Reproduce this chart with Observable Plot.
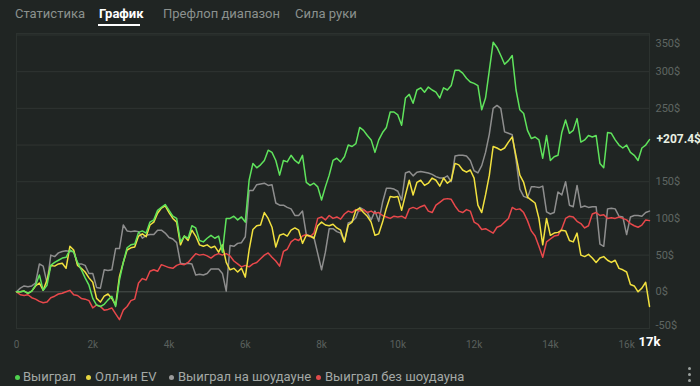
<!DOCTYPE html>
<html><head><meta charset="utf-8">
<script src="https://cdn.jsdelivr.net/npm/d3@7"></script>
<script src="https://cdn.jsdelivr.net/npm/@observablehq/plot@0.6"></script>
<style>
html,body{margin:0;padding:0;background:#202523;width:700px;height:386px;overflow:hidden;font-family:Roboto,"Noto Sans",sans-serif;}
#wrap{position:relative;width:700px;height:386px;}
.tab{position:absolute;top:6px;font-size:13px;line-height:16px;color:#8b918e;white-space:nowrap;}
.tab.active{color:#ffffff;font-weight:bold;}
#uline{position:absolute;left:98px;top:24px;width:42px;height:2px;background:#ffffff;}
#chart{position:absolute;left:0;top:0;}
.lg{position:absolute;top:369px;font-size:13px;line-height:16px;color:#a4a9a6;white-space:nowrap;}
.dot{position:absolute;top:375px;width:5px;height:5px;border-radius:50%;}
#kebab{position:absolute;left:688px;top:367px;width:4px;height:16px;z-index:5;}
#kebab span{display:block;width:3px;height:3px;margin:0 0 3px 0;border-radius:50%;background:#9ba19e;}
</style></head>
<body><div id="wrap">
<div id="chart"></div>
<div id="tabs"></div>
<div id="uline"></div>
<div id="legend"></div>
<div id="kebab"><span></span><span></span><span></span></div>
</div>
<script>
// ---- data ----
const tabs = ["Статистика", "График", "Префлоп диапазон", "Сила руки"];
const seriesNames = ["Выиграл", "Олл-ин EV", "Выиграл на шоудауне", "Выиграл без шоудауна"];
const seriesColors = ["#5fe35c", "#f2e13f", "#8e8e8e", "#e8484b"];
const legendDotColors = ["#4fd24f", "#e6d640", "#9a9a9a", "#e04a4a"];
const xTicks = [0, 2000, 4000, 6000, 8000, 10000, 12000, 14000, 16000];
const yTicks = [0, 50, 100, 150, 250, 300];
const gridTicks = [50, 100, 150, 200, 250, 300, 350];
const totalLabel = "17k";
const hands = d3.range(0, 16700, 100); // 0..16600 hands, step 100

const won = [
0,0,1,-2,1,9,23,2,9,36,
40,43,46,47,57,54,40,30,19,9,
-9,-18,-20,-17,-11,-6,-20,16,40,60,
64,65,81,83,80,95,98,111,115,119,
111,103,100,68,76,73,90,87,70,68,
73,77,73,76,54,100,100,103,98,102,
95,152,175,169,173,179,193,190,179,159,
179,177,186,179,175,186,149,145,148,143,
125,143,159,179,182,177,184,200,198,202,
224,220,213,207,190,207,217,224,245,245,
241,227,264,269,257,275,278,272,279,275,
272,264,278,275,281,302,302,298,291,286,
284,281,248,264,302,340,333,322,310,315,
322,275,248,243,220,209,211,207,182,213,
179,184,186,217,234,216,220,236,204,207,
213,211,213,175,169,217,216,207,200,196,
200,190,186,179,196,200,207.4];

const allinEV = [
0,0,1,-2,1,8,12,2,16,36,
35,38,39,32,62,57,36,32,27,19,
13,-9,-14,-6,-3,-9,-18,21,40,57,
60,61,76,79,75,91,95,107,114,117,
108,100,95,64,76,70,84,76,64,62,
64,60,62,54,64,40,30,32,27,32,
20,57,85,90,91,108,100,88,61,77,
79,76,84,87,84,66,77,76,73,90,
95,91,90,92,87,84,68,91,95,111,
114,108,103,95,77,79,95,114,130,129,
130,111,132,152,132,149,152,145,148,155,
152,144,155,148,152,175,173,166,163,166,
155,118,108,132,159,198,196,193,196,204,
211,185,159,149,129,125,121,100,64,100,
77,80,81,84,83,70,68,80,50,48,
51,46,40,46,48,43,40,43,32,30,
27,10,8,0,5,13,-20];

const showdown = [
0,5,8,7,8,12,38,35,12,50,
48,53,55,56,55,55,38,38,36,25,
25,6,5,30,29,30,59,59,91,83,
82,83,82,73,77,78,78,84,84,80,
74,72,67,39,38,39,38,23,24,23,
25,31,31,31,25,1,63,62,66,67,
75,138,138,146,147,148,145,146,121,118,
118,115,113,104,104,110,78,76,74,52,
30,54,86,86,82,80,68,94,96,101,
115,112,108,98,110,96,122,141,141,140,
137,125,162,164,158,163,164,163,162,160,
157,155,155,158,150,185,186,186,185,179,
165,162,172,190,215,250,254,250,218,216,
214,180,140,130,128,143,143,142,144,109,
106,108,136,132,150,118,116,145,115,117,
115,116,116,65,62,113,114,113,103,102,
78,102,104,104,103,108,110];

const nonShowdown = [
0,-4,-5,-4,-8,-10,-13,-15,-14,-8,
-6,-3,-2,0,2,-4,-5,-9,-10,-12,
-22,-18,-20,-25,-24,-22,-30,-38,-25,-20,
-12,-10,12,18,16,28,30,28,37,35,
33,32,36,38,37,40,46,52,50,51,
49,46,50,52,50,52,49,42,38,34,
36,34,38,40,45,50,53,47,42,35,
55,58,68,72,70,76,78,75,80,100,
102,98,104,100,102,99,106,110,108,112,
110,112,108,110,107,108,104,102,100,103,
102,103,100,113,115,113,116,118,110,108,
118,122,126,127,126,117,110,108,112,110,
95,92,85,86,83,80,88,90,95,100,
115,112,113,108,97,83,76,62,47,68,
72,76,77,86,100,103,102,96,93,87,
90,106,108,104,105,100,101,100,102,100,
98,93,90,88,91,98,97];

// ---- build ----
const seriesValues = [won, allinEV, showdown, nonShowdown];
const rows = [];
seriesValues.forEach((vals, s) => {
  vals.forEach((v, i) => rows.push({hand: hands[i], value: v, series: seriesNames[s]}));
});
const drawOrder = [2, 3, 1, 0];
const lastHand = hands[won.length - 1];
const lastWon = won[won.length - 1];

const fmtX = d => d === 0 ? "0" : (d / 1000) + "k";
const fmtY = d => d + "$";
const axisStyle = {anchor: "right", tickSize: 0, tickPadding: 6, tickFormat: fmtY, fill: "#5f6562", fontSize: 11, label: null};

const plot = Plot.plot({
  width: 700,
  height: 360,
  marginTop: 33,
  marginBottom: 32,
  marginLeft: 16,
  marginRight: 51,
  style: {background: "transparent", fontFamily: "Roboto, 'Noto Sans', sans-serif"},
  x: {domain: [0, lastHand], axis: null},
  y: {domain: [-50, 352], axis: null},
  marks: [
    Plot.gridY(gridTicks, {stroke: "#2f3532", strokeOpacity: 1, strokeWidth: 1}),
    Plot.ruleY([0], {stroke: "#4a504d", strokeWidth: 1}),
    Plot.frame({stroke: "#2c322f", strokeWidth: 1}),
    ...drawOrder.map(s => Plot.line(rows.filter(r => r.series === seriesNames[s]), {
      x: "hand", y: "value", stroke: seriesColors[s], strokeWidth: 1.5, strokeLinejoin: "round"
    })),
    Plot.axisY(yTicks, axisStyle),
    Plot.axisY([350], {...axisStyle, dy: 9}),
    Plot.axisY([-50], {...axisStyle, dy: -3}),
    Plot.axisX(xTicks, {anchor: "bottom", tickSize: 0, tickPadding: 12, tickFormat: fmtX, fill: "#5a605d", fontSize: 10, label: null}),
    Plot.text([lastHand], {x: d => d, frameAnchor: "bottom", dy: 17, text: () => totalLabel, fill: "#ffffff", fontWeight: "bold", fontSize: 13}),
    Plot.text([lastWon], {x: () => lastHand, y: d => d, text: d => "+" + d + "$", dx: 7, textAnchor: "start", fill: "#e9f0e2", fontWeight: "bold", fontSize: 12})
  ]
});
document.getElementById("chart").appendChild(plot);

// tabs
const tabLeft = [15, 99, 163, 295];
const tabsEl = document.getElementById("tabs");
tabs.forEach((t, i) => {
  const s = document.createElement("div");
  s.className = "tab" + (i === 1 ? " active" : "");
  s.style.left = tabLeft[i] + "px";
  s.textContent = t;
  tabsEl.appendChild(s);
});

// legend
const lgDot = [15, 86, 169, 316];
const lgText = [23, 95, 178, 325];
const lgEl = document.getElementById("legend");
seriesNames.forEach((n, i) => {
  const d = document.createElement("div");
  d.className = "dot";
  d.style.left = lgDot[i] + "px";
  d.style.background = legendDotColors[i];
  lgEl.appendChild(d);
  const t = document.createElement("div");
  t.className = "lg";
  t.style.left = lgText[i] + "px";
  t.textContent = n;
  lgEl.appendChild(t);
});
</script>
</body></html>
